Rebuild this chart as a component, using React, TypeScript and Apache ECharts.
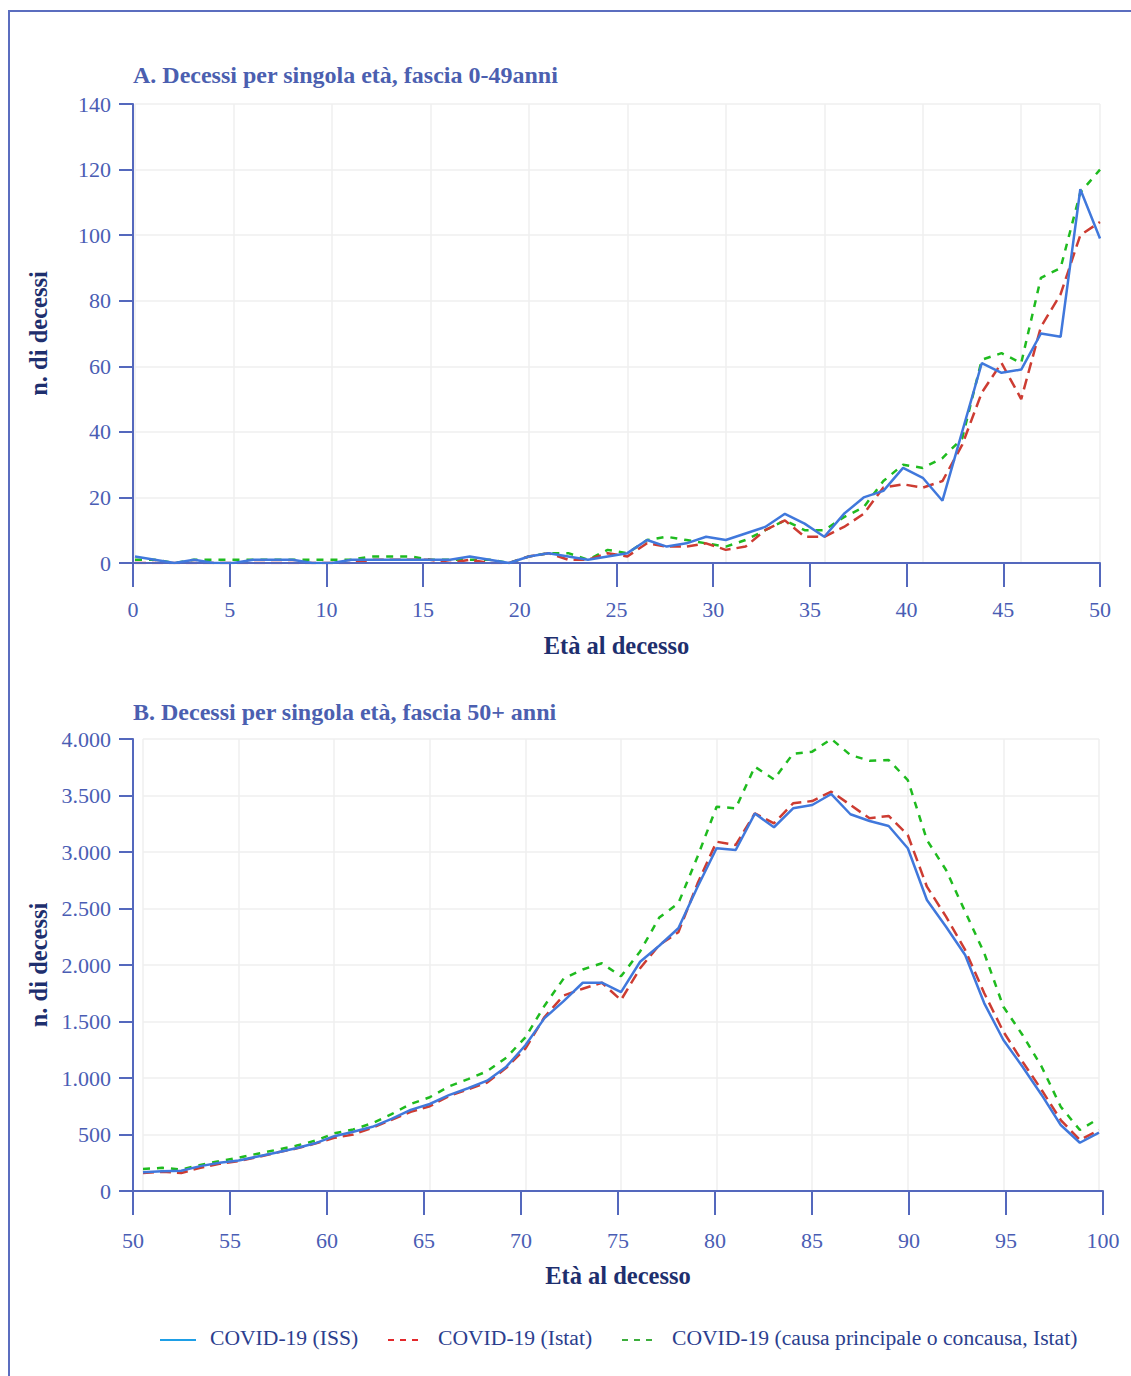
import { useEffect, useRef } from "react";
import * as echarts from "echarts";

// ---------- Data ----------
const seriesNames = [
  "COVID-19 (ISS)",
  "COVID-19 (Istat)",
  "COVID-19 (causa principale o concausa, Istat)",
];
const titleA = "A. Decessi per singola età, fascia 0-49anni";
const titleB = "B. Decessi per singola età, fascia 50+ anni";
const yName = "n. di decessi";
const xName = "Età al decesso";

const agesA = [
  0, 1, 2, 3, 4, 5, 6, 7, 8, 9, 10, 11, 12, 13, 14, 15, 16, 17, 18, 19, 20, 21, 22, 23, 24,
  25, 26, 27, 28, 29, 30, 31, 32, 33, 34, 35, 36, 37, 38, 39, 40, 41, 42, 43, 44, 45, 46, 47, 48, 49,
];
const issA = [
  2, 1, 0, 1, 0, 0, 1, 1, 1, 0, 0, 1, 1, 1, 1, 1, 1, 2, 1, 0, 2, 3, 2, 1, 2,
  3, 7, 5, 6, 8, 7, 9, 11, 15, 12, 8, 15, 20, 22, 29, 26, 19, 40, 61, 58, 59, 70, 69, 114, 99,
];
const istatA = [
  0, 0, 0, 0, 0, 0, 0, 0, 0, 0, 0, 0, 1, 1, 1, 1, 0, 1, 0, 0, 2, 3, 1, 1, 3,
  2, 6, 5, 5, 6, 4, 5, 10, 13, 8, 8, 11, 15, 23, 24, 23, 25, 36, 52, 61, 50, 72, 82, 100, 104,
];
const concausaA = [
  1, 1, 0, 1, 1, 1, 1, 1, 1, 1, 1, 1, 2, 2, 2, 1, 1, 1, 1, 0, 2, 3, 3, 1, 4,
  3, 7, 8, 7, 6, 5, 7, 10, 13, 10, 10, 14, 17, 25, 30, 29, 32, 38, 62, 64, 61, 87, 90, 113, 120,
];

const agesB = [
  50, 51, 52, 53, 54, 55, 56, 57, 58, 59, 60, 61, 62, 63, 64, 65, 66, 67, 68, 69, 70, 71, 72, 73, 74,
  75, 76, 77, 78, 79, 80, 81, 82, 83, 84, 85, 86, 87, 88, 89, 90, 91, 92, 93, 94, 95, 96, 97, 98, 99, 100,
];
const issB = [
  165, 175, 180, 220, 250, 270, 305, 340, 378, 422, 485, 525, 568, 638, 718, 770, 848, 909, 976, 1100,
  1290, 1530, 1680, 1843, 1843, 1760, 2029, 2170, 2325, 2690, 3033, 3018, 3340, 3219, 3387, 3416, 3513,
  3334, 3274, 3230, 3033, 2575, 2339, 2088, 1661, 1336, 1100, 850, 584, 427, 516,
];
const istatB = [
  160, 170, 160, 205, 240, 265, 300, 340, 375, 420, 470, 500, 560, 630, 700, 750, 840, 900, 960, 1090,
  1260, 1540, 1730, 1790, 1843, 1690, 1971, 2177, 2290, 2720, 3091, 3062, 3342, 3254, 3431, 3451, 3534,
  3416, 3298, 3319, 3150, 2693, 2428, 2133, 1750, 1410, 1144, 894, 628, 451, 540,
];
const concausaB = [
  195, 205, 190, 230, 265, 295, 330, 365, 400, 445, 510, 545, 600, 680, 770, 830, 925, 990, 1060, 1180,
  1360, 1640, 1880, 1960, 2015, 1900, 2120, 2420, 2546, 2958, 3400, 3387, 3755, 3643, 3870, 3888, 4000,
  3858, 3808, 3814, 3637, 3106, 2841, 2472, 2104, 1631, 1381, 1100, 746, 540, 643,
];

// axis ranges
const xRangeA = { min: 0, max: 50, interval: 5 };
const yRangeA = { min: 0, max: 140, interval: 20 };
const xRangeB = { min: 50, max: 100, interval: 5 };
const yRangeB = { min: 0, max: 4000, interval: 500 };

// ---------- Styles ----------
const FONT = "'Liberation Serif', 'Times New Roman', serif";
const AXIS_COLOR = "#5468bd";
const LABEL_COLOR = "#4a5db4";
const TITLE_COLOR = "#4b5fb0";
const NAME_COLOR = "#1e2f6e";
const LEGEND_TEXT = "#2b3e8e";
const GRID_LINE = "#efefef";
const lineColors = ["#4078dc", "#cd3c32", "#1fbb1f"];
const legendColors = ["#1e9fe6", "#e3282b", "#3cae3c"];
const lineDash: any[] = ["solid", [11, 6], [7, 7]];

function fmtThousands(v: number): string {
  if (v >= 1000) {
    const th = Math.floor(v / 1000);
    const rest = String(v % 1000).padStart(3, "0");
    return `${th}.${rest}`;
  }
  return String(v);
}

function visibleX(gridIndex: number, range: any, nameGap: number, labelMargin: number) {
  return {
    gridIndex,
    type: "value",
    ...range,
    axisLine: { show: true, onZero: false, lineStyle: { color: AXIS_COLOR, width: 2 } },
    axisTick: { show: true, length: 24, lineStyle: { color: AXIS_COLOR, width: 2 } },
    axisLabel: { margin: labelMargin, fontSize: 22, color: LABEL_COLOR, fontFamily: FONT },
    splitLine: { show: false },
    name: xName,
    nameLocation: "middle",
    nameGap,
    nameTextStyle: { fontSize: 24.5, fontWeight: "bold", color: NAME_COLOR, fontFamily: FONT },
    z: 5,
  };
}
function visibleY(gridIndex: number, range: any, formatter?: any) {
  return {
    gridIndex,
    type: "value",
    ...range,
    axisLine: { show: true, onZero: false, lineStyle: { color: AXIS_COLOR, width: 2 } },
    axisTick: { show: true, length: 14, lineStyle: { color: AXIS_COLOR, width: 2 } },
    axisLabel: {
      margin: 22,
      fontSize: 22,
      color: LABEL_COLOR,
      fontFamily: FONT,
      formatter: formatter,
    },
    splitLine: { show: false },
    name: yName,
    nameLocation: "middle",
    nameGap: 82,
    nameTextStyle: { fontSize: 24.5, fontWeight: "bold", color: NAME_COLOR, fontFamily: FONT },
    z: 5,
  };
}
function dataAxis(gridIndex: number, range: any) {
  return {
    gridIndex,
    type: "value",
    ...range,
    axisLine: { show: false },
    axisTick: { show: false },
    axisLabel: { show: false },
    splitLine: { show: true, lineStyle: { color: GRID_LINE, width: 1.5 } },
  };
}

function mkSeries(xIdx: number, ages: number[], vals: number[][]) {
  return vals.map((arr, k) => ({
    type: "line",
    name: seriesNames[k],
    xAxisIndex: xIdx,
    yAxisIndex: xIdx,
    data: ages.map((a, i) => [a, arr[i]]),
    showSymbol: false,
    symbol: "none",
    lineStyle: { color: lineColors[k], width: 2.5, type: lineDash[k] },
    z: 3 + (2 - k),
  }));
}

export default function App() {
  const ref = useRef<HTMLDivElement>(null);
  useEffect(() => {
    if (!ref.current) return;
    const chart = echarts.init(ref.current, undefined, { renderer: "svg" });

    const legendX = [160, 388, 622];
    const legendGraphics: any[] = [];
    seriesNames.forEach((n, k) => {
      legendGraphics.push({
        type: "line",
        shape: { x1: legendX[k], y1: 1340, x2: legendX[k] + 36, y2: 1340 },
        style: {
          stroke: legendColors[k],
          lineWidth: 2,
          lineDash: k === 0 ? null : [6, 6],
        },
      });
      legendGraphics.push({
        type: "text",
        x: legendX[k] + 50,
        y: 1338,
        style: {
          text: n,
          fontSize: 21.6,
          fontFamily: FONT,
          fill: LEGEND_TEXT,
          verticalAlign: "middle",
        },
      });
    });

    const titleStyle = { fontSize: 24, fontWeight: "bold", color: TITLE_COLOR, fontFamily: FONT };
    const option: any = {
      animation: false,
      backgroundColor: "#ffffff",
      title: [
        { text: titleA, left: 128, top: 58, textStyle: titleStyle },
        { text: titleB, left: 128, top: 695, textStyle: titleStyle },
      ],
      grid: [
        { left: 133, top: 104, width: 967, height: 459 },
        { left: 135, top: 104, width: 965, height: 459 },
        { left: 133, top: 739, width: 970, height: 452 },
        { left: 143, top: 739, width: 956, height: 452 },
      ],
      xAxis: [
        visibleX(0, xRangeA, 70, 35),
        dataAxis(1, { min: agesA[0], max: agesA[agesA.length - 1], interval: 5 }),
        visibleX(2, xRangeB, 72, 38),
        dataAxis(3, { min: agesB[0], max: agesB[agesB.length - 1], interval: 5 }),
      ],
      yAxis: [
        visibleY(0, yRangeA),
        dataAxis(1, yRangeA),
        visibleY(2, yRangeB, fmtThousands),
        dataAxis(3, yRangeB),
      ],
      series: [
        ...mkSeries(1, agesA, [issA, istatA, concausaA]),
        ...mkSeries(3, agesB, [issB, istatB, concausaB]),
      ],
      graphic: [
        {
          type: "rect",
          shape: { x: 9, y: 11, width: 1200, height: 1450 },
          style: { fill: "none", stroke: "#5b6dbf", lineWidth: 2 },
          silent: true,
        },
        ...legendGraphics,
      ],
    };
    chart.setOption(option);
    return () => chart.dispose();
  }, []);

  return (
    <div
      ref={ref}
      style={{ position: "absolute", left: 0, top: 0, width: 1131, height: 1376, background: "#fff" }}
    />
  );
}
